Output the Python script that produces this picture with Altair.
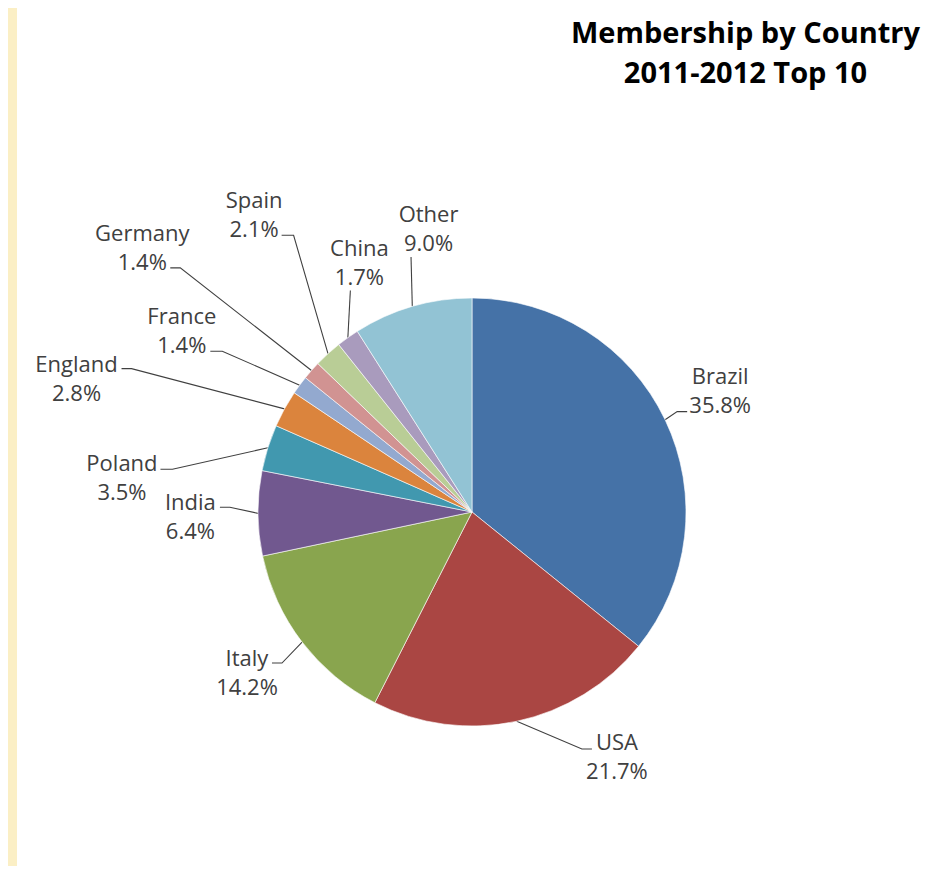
import altair as alt
import numpy as np
import pandas as pd

# ---------------- data ----------------
countries = ["Brazil", "USA", "Italy", "India", "Poland", "England",
             "France", "Germany", "Spain", "China", "Other"]
shares = [35.8, 21.7, 14.2, 6.4, 3.5, 2.8, 1.4, 1.4, 2.1, 1.7, 9.0]
colors = ["#4572A7", "#AA4643", "#89A54E", "#71588F", "#4198AF", "#DB843D",
          "#93A9CF", "#D19392", "#B9CD96", "#A99BBD", "#92C3D4"]
title_lines = ["Membership by Country", "2011-2012 Top 10"]

# ---------------- label layout (Excel style placement) ----------------
# label centre distance in pie radii and angular shift from slice middle (deg)
label_r = [1.292, 1.328, 1.289, 1.316, 1.644, 1.951, 1.600, 1.977, 1.724, 1.281, 1.343]
label_shift = [-0.6, -18.6, 2.1, -0.4, -11.7, -10.1, -4.3, -2.6, 6.1, 11.2, 7.5]
# leader-line end relative to label centre (px) and elbow length (px)
lead_dx = [-33, -25, 25, 29.5, 38.5, 45, 28.5, 28, 27.5, -9, -17.5]
lead_dy = [21.5, -7.5, -8.5, -8.5, -7.5, -9.5, 21, 21, 21, 28.5, 29]
elbow_dx = [-10, -10, 10, 10, 12, 10, 12, 10, 12, 0, 0]

R = 214          # pie radius in px
W, H = 909, 858  # white panel (plot area)
CX, CY = 455, 504  # pie centre in the plot area

vals = np.array(shares)
total = vals.sum()
ends = np.cumsum(vals)
starts = ends - vals
mid = (starts + vals / 2) / total * 2 * np.pi
la = mid + np.radians(label_shift)
lx = np.array(label_r) * np.sin(la)
ly = np.array(label_r) * np.cos(la)

df = pd.DataFrame({
    "idx": range(len(countries)),
    "country": countries,
    "share": shares,
    "start": starts,
    "end": ends,
    "pct": [f"{v:.1f}%" for v in shares],
    "lx": lx,
    "ly": ly,
})

rows = []
for i, c in enumerate(countries):
    ex = lx[i] + lead_dx[i] / R
    ey = ly[i] - lead_dy[i] / R
    bx = ex + elbow_dx[i] / R
    rows.append({"country": c, "k": 0, "x": np.sin(mid[i]), "y": np.cos(mid[i])})
    rows.append({"country": c, "k": 1, "x": bx, "y": ey})
    rows.append({"country": c, "k": 2, "x": ex, "y": ey})
lines = pd.DataFrame(rows)

xs = alt.Scale(domain=[-CX / R, (W - CX) / R], nice=False, zero=False)
ys = alt.Scale(domain=[-(H - CY) / R, CY / R], nice=False, zero=False)

leaders = alt.Chart(lines).mark_line(color="#404040", strokeWidth=1.1).encode(
    x=alt.X("x:Q", scale=xs, axis=None),
    y=alt.Y("y:Q", scale=ys, axis=None),
    detail="country:N",
    order="k:Q",
)

pie = alt.Chart(df).mark_arc(outerRadius=R, stroke="white", strokeWidth=0.6).encode(
    x=alt.XDatum(0, type="quantitative", scale=xs, axis=None),
    y=alt.YDatum(0, type="quantitative", scale=ys, axis=None),
    theta=alt.Theta("start:Q", scale=alt.Scale(domain=[0, total], range=[0, 2 * np.pi])),
    theta2="end:Q",
    color=alt.Color("country:N", scale=alt.Scale(domain=countries, range=colors), legend=None),
)

txt_style = dict(font="Open Sans", fontSize=22, color="#404040", align="center", baseline="middle")
names = alt.Chart(df).mark_text(dy=-13, **txt_style).encode(
    x=alt.X("lx:Q", scale=xs, axis=None),
    y=alt.Y("ly:Q", scale=ys, axis=None),
    text="country:N",
)
pcts = alt.Chart(df).mark_text(dy=16, **txt_style).encode(
    x=alt.X("lx:Q", scale=xs, axis=None),
    y=alt.Y("ly:Q", scale=ys, axis=None),
    text="pct:N",
)

chart = alt.layer(leaders, pie, names, pcts).properties(
    width=W, height=H,
    autosize="none",
    padding={"left": 9, "top": 0, "right": 0, "bottom": 0},
    background="#FBEFC5",
    title=alt.TitleParams(
        title_lines, font="Open Sans", fontSize=29, fontWeight="bold", color="black",
        anchor="middle", dx=274, dy=11, offset=-70, baseline="top", lineHeight=40,
    ),
).configure_view(fill="white", stroke=None)

chart.save("out.html", embed_options={"renderer": "svg", "actions": False})
